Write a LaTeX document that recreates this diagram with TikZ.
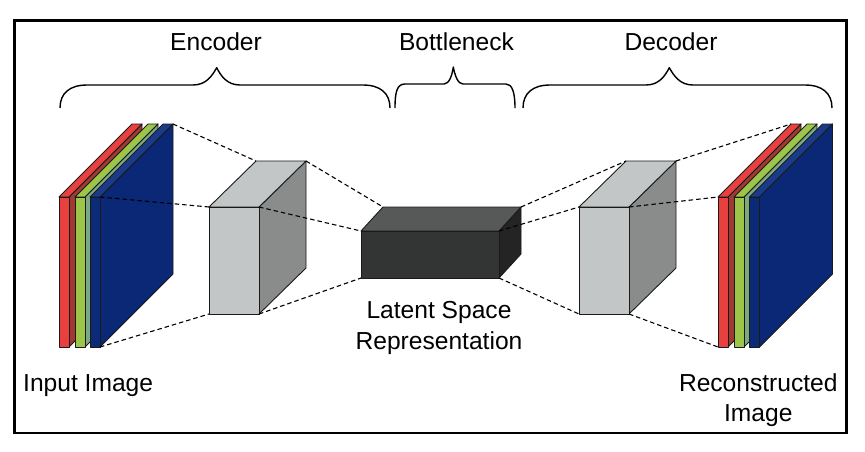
\documentclass[tikz,border=0pt]{standalone}
\usepackage{fontspec}
\setmainfont{Liberation Sans}
\definecolor{redF}{HTML}{E8403F}
\definecolor{redS}{HTML}{A0392F}
\definecolor{greenF}{HTML}{9DC649}
\definecolor{greenS}{HTML}{7BAA80}
\definecolor{blueF}{HTML}{0B2A78}
\definecolor{blueS}{HTML}{0A2876}
\definecolor{blueT}{HTML}{1A3A8A}
\definecolor{grayL}{HTML}{C3C6C7}
\definecolor{grayD}{HTML}{8A8B8B}
\definecolor{darkF}{HTML}{333534}
\definecolor{darkT}{HTML}{575958}
\definecolor{darkS}{HTML}{232423}
\definecolor{edge}{HTML}{1A1A1A}
\newcommand\cubcoords[7]{%
  \coordinate (#1-ftl) at (#2,#3);
  \coordinate (#1-ftr) at (#4,#3);
  \coordinate (#1-fbl) at (#2,#5);
  \coordinate (#1-fbr) at (#4,#5);
  \coordinate (#1-btl) at ({#2+#6},{#3-#7});
  \coordinate (#1-btr) at ({#4+#6},{#3-#7});
  \coordinate (#1-bbr) at ({#4+#6},{#5-#7});
}
\newcommand\cubdraw[4]{%
  \filldraw[facet,fill=#4] (#1-ftr) -- (#1-btr) -- (#1-bbr) -- (#1-fbr) -- cycle;
  \filldraw[facet,fill=#3] (#1-ftl) -- (#1-btl) -- (#1-btr) -- (#1-ftr) -- cycle;
  \filldraw[facet,fill=#2] (#1-ftl) -- (#1-ftr) -- (#1-fbr) -- (#1-fbl) -- cycle;
}
\begin{document}
\begin{tikzpicture}[x=1pt,y=-1pt,
  facet/.style={draw=edge,line width=0.9pt,line join=round},
  dashline/.style={draw=black,line width=1.1pt,dash pattern=on 4.5pt off 3pt},
  bracepath/.style={draw=black,line width=1.4pt,line join=round},
  lbl/.style={font=\fontsize{24.6}{29}\selectfont,inner sep=0pt,anchor=base},
  frameline/.style={draw=black,line width=2.7pt}]
\useasboundingbox (0,0) rectangle (865,451);
\fill[white] (0,0) rectangle (865,451);
\draw[frameline] (14.7,20.7) rectangle (846.5,433);

% braces
\draw[bracepath] (60,108) .. controls (60,93) and (70,85) .. (87,85) -- (193,85)
  .. controls (206,85) and (212,76) .. (216.7,67.7)
  .. controls (221,76) and (227,85) .. (240,85) -- (363,85)
  .. controls (380,85) and (390,93) .. (390,108);
\draw[bracepath] (395,108) .. controls (395,92) and (397,84) .. (405,84) -- (444,84)
  .. controls (449,84) and (452,76) .. (453.3,67)
  .. controls (455,76) and (458,84) .. (463,84) -- (506,84)
  .. controls (512,84) and (515,92) .. (515,108);
\draw[bracepath] (523,108) .. controls (523,93) and (533,85) .. (550,85) -- (646,85)
  .. controls (659,85) and (665,76) .. (669.3,67.7)
  .. controls (674,76) and (680,85) .. (693,85) -- (805,85)
  .. controls (822,85) and (832,93) .. (832,108);

% shapes
\cubcoords{inR}{59}{197}{69}{347}{73}{73}
\cubcoords{inG}{75}{197}{85}{347}{73}{73}
\cubcoords{inB}{90}{197}{100}{347}{73}{73}
\cubcoords{enc}{209}{207}{259}{314}{47}{46}
\cubcoords{lat}{361}{231}{499}{278}{22}{24}
\cubcoords{dec}{579}{207}{629}{314}{47}{46}
\cubcoords{outR}{718}{197}{728}{347}{73}{73}
\cubcoords{outG}{734}{197}{744}{347}{73}{73}
\cubcoords{outB}{749.5}{197}{759.5}{347}{73}{73}

\cubdraw{inR}{redF}{redF}{redS}
\cubdraw{inG}{greenF}{greenF}{greenS}
\cubdraw{inB}{blueF}{blueT}{blueS}
\cubdraw{enc}{grayL}{grayL}{grayD}
\cubdraw{lat}{darkF}{darkT}{darkS}
\cubdraw{dec}{grayL}{grayL}{grayD}
\cubdraw{outR}{redF}{redF}{redS}
\cubdraw{outG}{greenF}{greenF}{greenS}
\cubdraw{outB}{blueF}{blueT}{blueS}

% dashed connectors
\draw[dashline] (inB-btr) -- (enc-btl);
\draw[dashline] (inB-ftr) -- (enc-ftl);
\draw[dashline] (inB-fbr) -- (enc-fbl);
\draw[dashline] (enc-btr) -- (lat-btl);
\draw[dashline] (enc-ftr) -- (lat-ftl);
\draw[dashline] (enc-fbr) -- (lat-fbl);
\draw[dashline] (lat-btr) -- (dec-btl);
\draw[dashline] (lat-ftr) -- (dec-ftl);
\draw[dashline] (lat-fbr) -- (dec-fbl);
\draw[dashline] (dec-btr) -- (outR-btl);
\draw[dashline] (dec-ftr) -- (outR-ftl);
\draw[dashline] (dec-fbr) -- (outR-fbl);

% labels
\node[lbl] (tEnc) at (216,50) {Encoder};
\node[lbl] (tBot) at (456.5,50) {Bottleneck};
\node[lbl] (tDec) at (671,50) {Decoder};
\node[lbl,anchor=base west] (tIn) at (23,391.7) {Input Image};
\node[lbl] (tLat1) at (439,318) {Latent Space};
\node[lbl] (tLat2) at (439,349) {Representation};
\node[lbl] (tRec1) at (758.3,391.7) {Reconstructed};
\node[lbl] (tRec2) at (758.3,421.7) {Image};
\end{tikzpicture}
\end{document}
